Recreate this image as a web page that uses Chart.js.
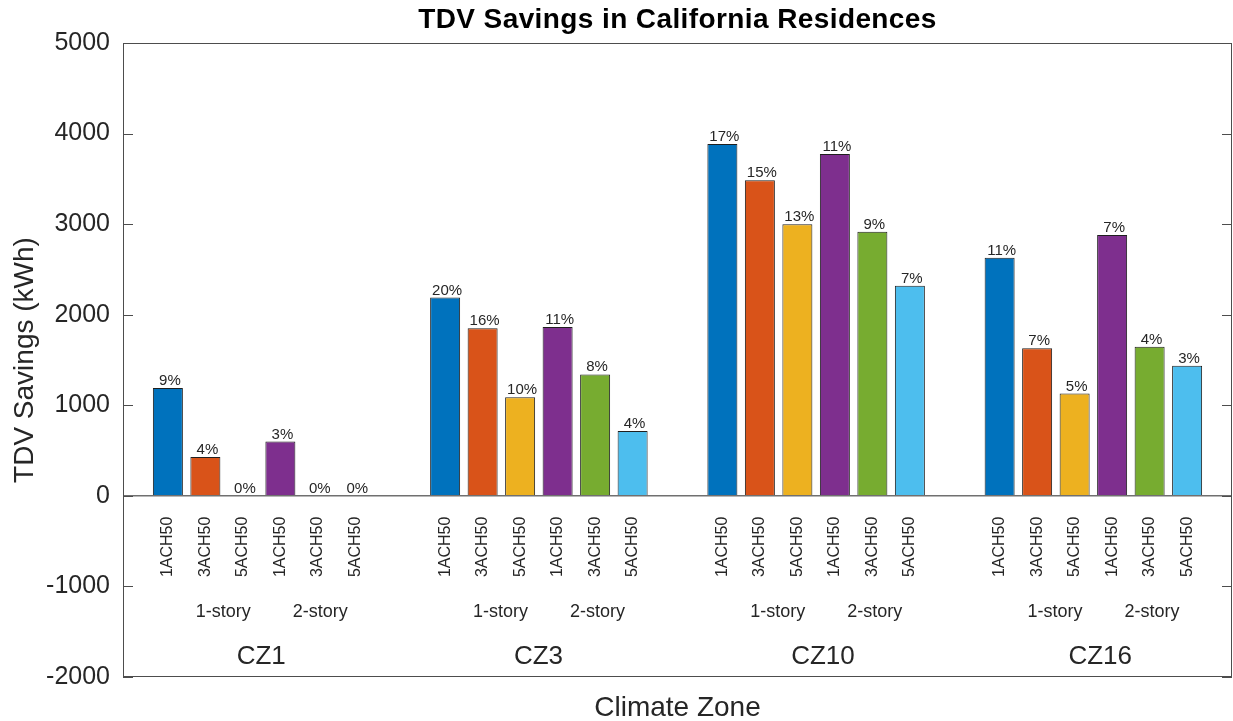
<!DOCTYPE html>
<html lang="en">
<head>
    <meta charset="UTF-8">
    <title>TDV Savings in California Residences</title>
    <script src="https://cdn.jsdelivr.net/npm/chart.js@4.4.1/dist/chart.umd.min.js"></script>
    <style>
        body { margin: 0; background: #fff; }
        canvas { display: block; }
    </style>
</head>
<body>
    <canvas id="tdvChart" width="1233" height="721"></canvas>

    <script>
        // climate zones along the x axis
        const zones = ['CZ1', 'CZ3', 'CZ10', 'CZ16'];
        // one series per house type / airtightness
        const seriesNames = ['1ACH50', '3ACH50', '5ACH50', '1ACH50', '3ACH50', '5ACH50'];
        const storyNames = ['1-story', '2-story'];

        // TDV savings (kWh), one array per series, values per zone
        const oneStory1ACH = [1190, 2190, 3885, 2630];
        const oneStory3ACH = [430, 1850, 3485, 1630];
        const oneStory5ACH = [0, 1090, 3000, 1130];
        const twoStory1ACH = [600, 1865, 3775, 2880];
        const twoStory3ACH = [0, 1340, 2915, 1645];
        const twoStory5ACH = [0, 715, 2320, 1437];

        // percent savings shown above the bars
        const pct1 = ['9%', '20%', '17%', '11%'];
        const pct2 = ['4%', '16%', '15%', '7%'];
        const pct3 = ['0%', '10%', '13%', '5%'];
        const pct4 = ['3%', '11%', '11%', '7%'];
        const pct5 = ['0%', '8%', '9%', '4%'];
        const pct6 = ['0%', '4%', '7%', '3%'];

        const yTicks = [-2000, -1000, 0, 1000, 2000, 3000, 4000, 5000];

        const values = [oneStory1ACH, oneStory3ACH, oneStory5ACH, twoStory1ACH, twoStory3ACH, twoStory5ACH];
        const pcts = [pct1, pct2, pct3, pct4, pct5, pct6];
        const colors = ['#0072BD', '#D95319', '#EDB120', '#7E2F8E', '#77AC30', '#4DBEEE'];

        const FONT = "'Liberation Sans', Arial, Helvetica, sans-serif";
        const TEXT = '#262626';

        // everything MATLAB draws inside/around the axes that Chart.js doesn't
        const matlabLook = {
            id: 'matlabLook',
            afterDatasetsDraw(chart) {
                const ctx = chart.ctx;
                const area = chart.chartArea;
                const xs = chart.scales.x;
                const ys = chart.scales.y;
                const y0 = ys.getPixelForValue(0);

                ctx.save();

                // baseline
                ctx.strokeStyle = '#707070';
                ctx.lineWidth = 1.5;
                ctx.beginPath();
                ctx.moveTo(area.left, y0);
                ctx.lineTo(area.right, y0);
                ctx.stroke();

                // box + inward ticks on both sides
                ctx.strokeStyle = '#4d4d4d';
                ctx.lineWidth = 1;
                ctx.strokeRect(area.left + 0.5, area.top + 0.5, area.right - area.left - 1, area.bottom - area.top - 1);
                ctx.beginPath();
                yTicks.forEach(v => {
                    const y = Math.round(ys.getPixelForValue(v)) + 0.5;
                    ctx.moveTo(area.left, y);
                    ctx.lineTo(area.left + 10, y);
                    ctx.moveTo(area.right - 10, y);
                    ctx.lineTo(area.right, y);
                });
                ctx.stroke();

                ctx.fillStyle = TEXT;

                // percent labels and rotated series names
                chart.data.datasets.forEach((ds, i) => {
                    const meta = chart.getDatasetMeta(i);
                    meta.data.forEach((bar, j) => {
                        ctx.font = '15px ' + FONT;
                        ctx.textAlign = 'center';
                        ctx.textBaseline = 'alphabetic';
                        ctx.fillText(pcts[i][j], bar.x + 2, bar.y - 3);

                        ctx.save();
                        ctx.translate(bar.x, y0 + 51);
                        ctx.rotate(-Math.PI / 2);
                        ctx.font = '16px ' + FONT;
                        ctx.textBaseline = 'middle';
                        ctx.fillText(ds.label, 0, 0);
                        ctx.restore();
                    });
                });

                // story and zone labels under each group
                zones.forEach((z, j) => {
                    const cx = xs.getPixelForValue(j);
                    ctx.textAlign = 'left';
                    ctx.textBaseline = 'middle';
                    ctx.font = '18px ' + FONT;
                    ctx.fillText(storyNames[0], cx - 66, y0 + 116);
                    ctx.fillText(storyNames[1], cx + 31, y0 + 116);
                    ctx.font = '26px ' + FONT;
                    ctx.fillText(z, cx - 25, y0 + 161);
                });

                // titles
                const midX = (area.left + area.right) / 2;
                ctx.textAlign = 'center';
                ctx.textBaseline = 'alphabetic';
                ctx.fillStyle = '#000';
                ctx.font = 'bold 28px ' + FONT;
                ctx.letterSpacing = '0.4px';
                ctx.fillText('TDV Savings in California Residences', midX, 28);
                ctx.letterSpacing = '0px';

                ctx.fillStyle = TEXT;
                ctx.font = '28px ' + FONT;
                ctx.fillText('Climate Zone', midX, 716);

                ctx.save();
                ctx.translate(33, (area.top + area.bottom) / 2);
                ctx.rotate(-Math.PI / 2);
                ctx.fillText('TDV Savings (kWh)', 0, 0);
                ctx.restore();

                ctx.restore();
            }
        };

        const ctx = document.getElementById('tdvChart').getContext('2d');
        new Chart(ctx, {
            type: 'bar',
            data: {
                labels: zones,
                datasets: values.map((v, i) => ({
                    label: seriesNames[i],
                    data: v,
                    backgroundColor: colors[i],
                    borderColor: '#1f1f1f',
                    borderWidth: 1,
                    borderSkipped: 'start',
                    categoryPercentage: 0.8115,
                    barPercentage: 0.8
                }))
            },
            options: {
                responsive: false,
                animation: false,
                layout: { padding: { top: 43, right: 1, bottom: 44, left: 0 } },
                plugins: {
                    legend: { display: false },
                    tooltip: { enabled: false }
                },
                scales: {
                    x: { display: false },
                    y: {
                        min: -2000,
                        max: 5000,
                        afterFit(scale) { scale.width = 123; },
                        afterBuildTicks(scale) { scale.ticks = yTicks.map(v => ({ value: v })); },
                        grid: { display: false, drawTicks: false },
                        border: { display: false },
                        ticks: {
                            padding: 13,
                            color: TEXT,
                            font: { family: FONT, size: 25 },
                            callback: v => String(v)
                        }
                    }
                }
            },
            plugins: [matlabLook]
        });
    </script>
</body>
</html>
